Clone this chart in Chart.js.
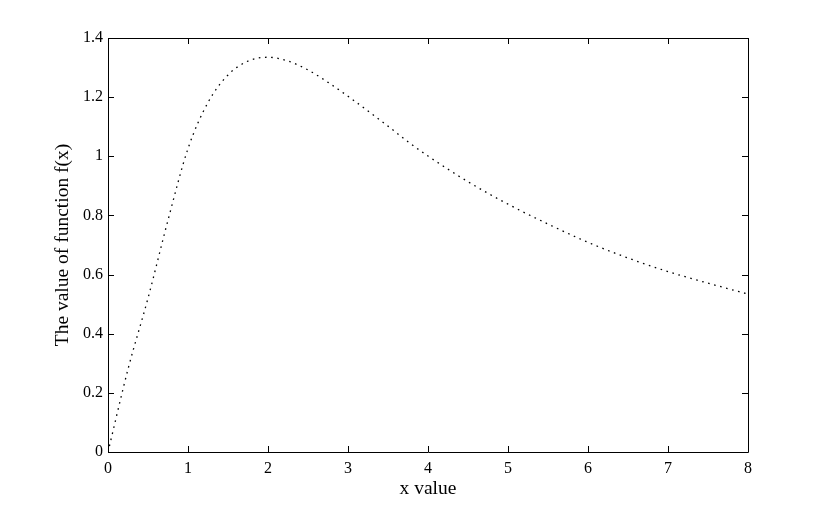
<!DOCTYPE html>
<html>
<head>
<meta charset="utf-8">
<script src="https://cdn.jsdelivr.net/npm/chart.js@4/dist/chart.umd.min.js"></script>
<style>
  html, body { margin: 0; padding: 0; background: #fff; }
  #wrap { width: 830px; height: 509px; }
</style>
</head>
<body>
<div id="wrap"><canvas id="c" width="830" height="509"></canvas></div>
<script>
const xValues = [0, 0.25, 0.5, 0.75, 1.0, 1.25, 1.5, 1.75, 2.0, 2.25, 2.5, 2.75, 3.0, 3.25, 3.5, 3.75, 4.0, 4.5, 5.0, 5.5, 6.0, 6.5, 7.0, 7.5, 8.0];
const yValues = [0, 0.28, 0.52, 0.784, 1.026, 1.182, 1.275, 1.322, 1.335, 1.322, 1.292, 1.25, 1.203, 1.153, 1.102, 1.049, 1.001, 0.914, 0.838, 0.771, 0.709, 0.656, 0.610, 0.571, 0.534];
const xTicks = [0, 1, 2, 3, 4, 5, 6, 7, 8];
const yTicks = [0, 0.2, 0.4, 0.6, 0.8, 1, 1.2, 1.4];
const yTickLabels = ['0', '0.2', '0.4', '0.6', '0.8', '1', '1.2', '1.4'];
const xTitle = 'x value';
const yTitle = 'The value of function f(x)';

const FONT = '"Liberation Serif", "Times New Roman", serif';

const boxTicks = {
  id: 'boxTicks',
  afterDatasetsDraw(chart) {
    const { ctx, chartArea: a, scales } = chart;
    const L = 6;
    ctx.save();
    ctx.strokeStyle = '#000';
    ctx.lineWidth = 1;
    ctx.beginPath();
    ctx.rect(Math.round(a.left) + 0.5, Math.round(a.top) + 0.5, Math.round(a.right - a.left), Math.round(a.bottom - a.top));
    ctx.stroke();
    ctx.beginPath();
    scales.x.ticks.forEach(t => {
      const px = Math.round(scales.x.getPixelForValue(t.value)) + 0.5;
      ctx.moveTo(px, a.bottom); ctx.lineTo(px, a.bottom - L);
      ctx.moveTo(px, a.top); ctx.lineTo(px, a.top + L);
    });
    scales.y.ticks.forEach(t => {
      const py = Math.round(scales.y.getPixelForValue(t.value)) + 0.5;
      ctx.moveTo(a.left, py); ctx.lineTo(a.left + L, py);
      ctx.moveTo(a.right, py); ctx.lineTo(a.right - L, py);
    });
    ctx.stroke();
    ctx.restore();
  }
};

new Chart(document.getElementById('c'), {
  type: 'line',
  data: {
    datasets: [{
      data: xValues.map((x, i) => ({ x: x, y: yValues[i] })),
      borderColor: '#000',
      borderWidth: 1.3,
      borderDash: [1.6, 4.6],
      pointRadius: 0,
      fill: false,
      cubicInterpolationMode: 'monotone'
    }]
  },
  options: {
    responsive: false,
    animation: false,
    layout: { padding: { left: 0, right: 82, top: 38, bottom: 1 } },
    plugins: { legend: { display: false }, tooltip: { enabled: false } },
    scales: {
      x: {
        type: 'linear', min: 0, max: 8,
        afterBuildTicks(s) { s.ticks = xTicks.map(v => ({ value: v })); },
        afterFit(s) { s.height = 56; },
        grid: { display: false, drawTicks: false },
        border: { display: false },
        ticks: { color: '#000', font: { family: FONT, size: 16 }, padding: 7, maxRotation: 0 },
        title: { display: true, text: xTitle, color: '#000', font: { family: FONT, size: 19.5 }, padding: { top: 2, bottom: 7 } }
      },
      y: {
        type: 'linear', min: 0, max: 1.4,
        afterBuildTicks(s) { s.ticks = yTicks.map(v => ({ value: v })); },
        afterFit(s) { s.width = 108; },
        grid: { display: false, drawTicks: false },
        border: { display: false },
        ticks: {
          color: '#000', font: { family: FONT, size: 16 }, padding: 5,
          callback(v) { const i = yTicks.findIndex(t => Math.abs(t - v) < 1e-9); return i >= 0 ? yTickLabels[i] : ''; }
        },
        title: { display: true, text: yTitle, color: '#000', font: { family: FONT, size: 19.5 }, padding: { top: 51, bottom: 0 } }
      }
    }
  },
  plugins: [boxTicks]
});
</script>
</body>
</html>
